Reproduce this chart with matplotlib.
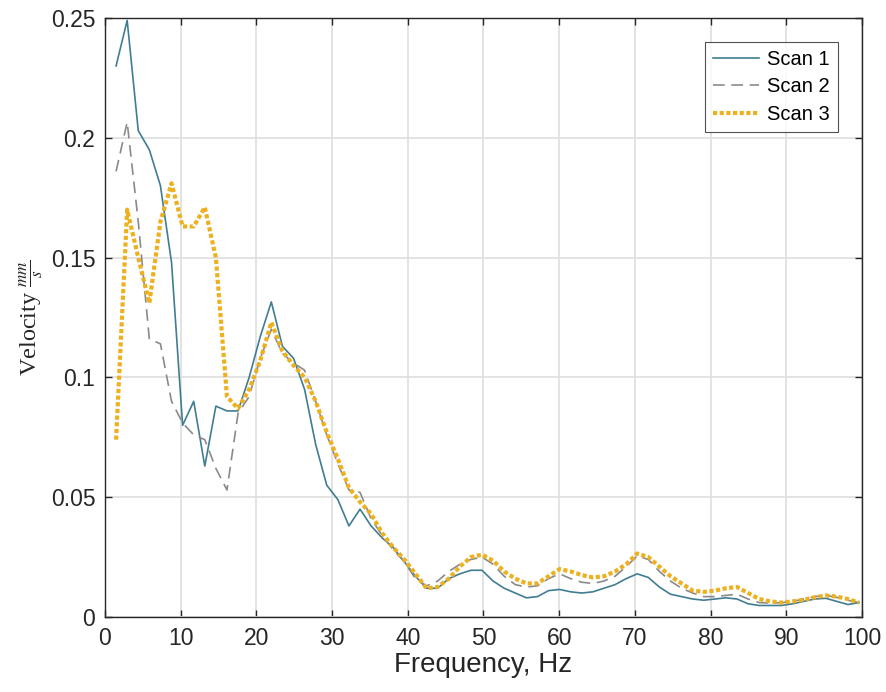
import numpy as np
import matplotlib
matplotlib.use("Agg")
import matplotlib.pyplot as plt

# frequency resolution of the spectra (Hz)
df = 1.4648
freq = df * np.arange(1, 69)

scan_1 = [0.230, 0.249, 0.203, 0.195, 0.180, 0.148, 0.080, 0.090, 0.063, 0.088,
          0.086, 0.086, 0.100, 0.117, 0.1315, 0.113, 0.108, 0.095, 0.072, 0.055,
          0.049, 0.038, 0.045, 0.038, 0.033, 0.029, 0.023, 0.017, 0.012, 0.012,
          0.016, 0.018, 0.0195, 0.0195, 0.015, 0.012, 0.010, 0.008, 0.0085, 0.011,
          0.0115, 0.0105, 0.010, 0.0105, 0.012, 0.0135, 0.016, 0.018, 0.0165, 0.0125,
          0.0095, 0.0085, 0.0075, 0.007, 0.0075, 0.008, 0.0075, 0.0055, 0.0048, 0.0048,
          0.0048, 0.0055, 0.0065, 0.0075, 0.0078, 0.0065, 0.0052, 0.006]

scan_2 = [0.186, 0.2065, 0.165, 0.116, 0.114, 0.090, 0.081, 0.076, 0.074, 0.062,
          0.053, 0.085, 0.092, 0.108, 0.120, 0.110, 0.106, 0.103, 0.090, 0.076,
          0.064, 0.053, 0.052, 0.041, 0.034, 0.028, 0.023, 0.016, 0.013, 0.015,
          0.019, 0.022, 0.024, 0.025, 0.022, 0.017, 0.0135, 0.0125, 0.013, 0.016,
          0.018, 0.016, 0.0145, 0.014, 0.015, 0.017, 0.021, 0.0255, 0.024, 0.019,
          0.015, 0.012, 0.010, 0.0085, 0.0085, 0.009, 0.0095, 0.0075, 0.006, 0.0058,
          0.006, 0.0065, 0.0075, 0.0085, 0.009, 0.0082, 0.007, 0.006]

scan_3 = [0.074, 0.170, 0.150, 0.131, 0.165, 0.181, 0.163, 0.163, 0.171, 0.150,
          0.092, 0.087, 0.095, 0.107, 0.123, 0.111, 0.105, 0.100, 0.090, 0.077,
          0.066, 0.054, 0.048, 0.043, 0.035, 0.029, 0.024, 0.018, 0.012, 0.0125,
          0.016, 0.021, 0.025, 0.026, 0.0235, 0.019, 0.016, 0.014, 0.014, 0.017,
          0.020, 0.019, 0.0175, 0.0165, 0.017, 0.019, 0.022, 0.0265, 0.025, 0.021,
          0.017, 0.014, 0.011, 0.0105, 0.011, 0.012, 0.0125, 0.010, 0.0075, 0.0065,
          0.006, 0.0065, 0.0072, 0.0082, 0.009, 0.0085, 0.0075, 0.006]

x_ticks = list(range(0, 101, 10))
y_ticks = [0, 0.05, 0.1, 0.15, 0.2, 0.25]
y_tick_labels = ["0", "0.05", "0.1", "0.15", "0.2", "0.25"]

plt.rcParams["font.family"] = ["Liberation Sans", "DejaVu Sans"]
plt.rcParams["mathtext.fontset"] = "stix"

fig = plt.figure(figsize=(8.86, 6.92), dpi=100)
ax = fig.add_axes([0.1185, 0.1084, 0.8544, 0.8656])

ax.plot(freq, scan_1, color="#417d92", linewidth=1.2, label="Scan 1")
ax.plot(freq, scan_2, color="#8a8a8a", linewidth=1.2, linestyle=(0, (7, 4)), label="Scan 2")
ax.plot(freq, scan_3, color="#EDB120", linewidth=3.0, linestyle=(0, (1, 0.6)), label="Scan 3")

ax.set_xlim(0, 100)
ax.set_ylim(0, 0.25)
ax.set_xticks(x_ticks)
ax.set_yticks(y_ticks)
ax.set_yticklabels(y_tick_labels)
ax.tick_params(direction="in", length=5, width=1, colors="#262626", labelsize=16.5,
               top=True, right=True)
ax.tick_params(axis="x", pad=7)
ax.tick_params(axis="y", pad=7)
ax.grid(True, color="#e0e0e0", linewidth=1.3)
ax.set_axisbelow(True)
for s in ax.spines.values():
    s.set_color("#262626")
    s.set_linewidth(1.0)

ax.set_xlabel("Frequency, Hz", fontsize=20, color="#262626", labelpad=2)
ax.set_ylabel(r"Velocity $\frac{mm}{s}$", fontsize=17.5, color="#262626",
              family=["Liberation Serif", "DejaVu Serif"], labelpad=4)

leg = ax.legend(loc="upper right", bbox_to_anchor=(0.968, 0.96), fontsize=14.5,
                frameon=True, fancybox=False, handlelength=2.3, borderpad=0.4,
                labelspacing=0.42, handletextpad=0.4, borderaxespad=0)
leg.get_frame().set_edgecolor("#262626")
leg.get_frame().set_linewidth(0.8)

fig.savefig("out.png", dpi=100)
